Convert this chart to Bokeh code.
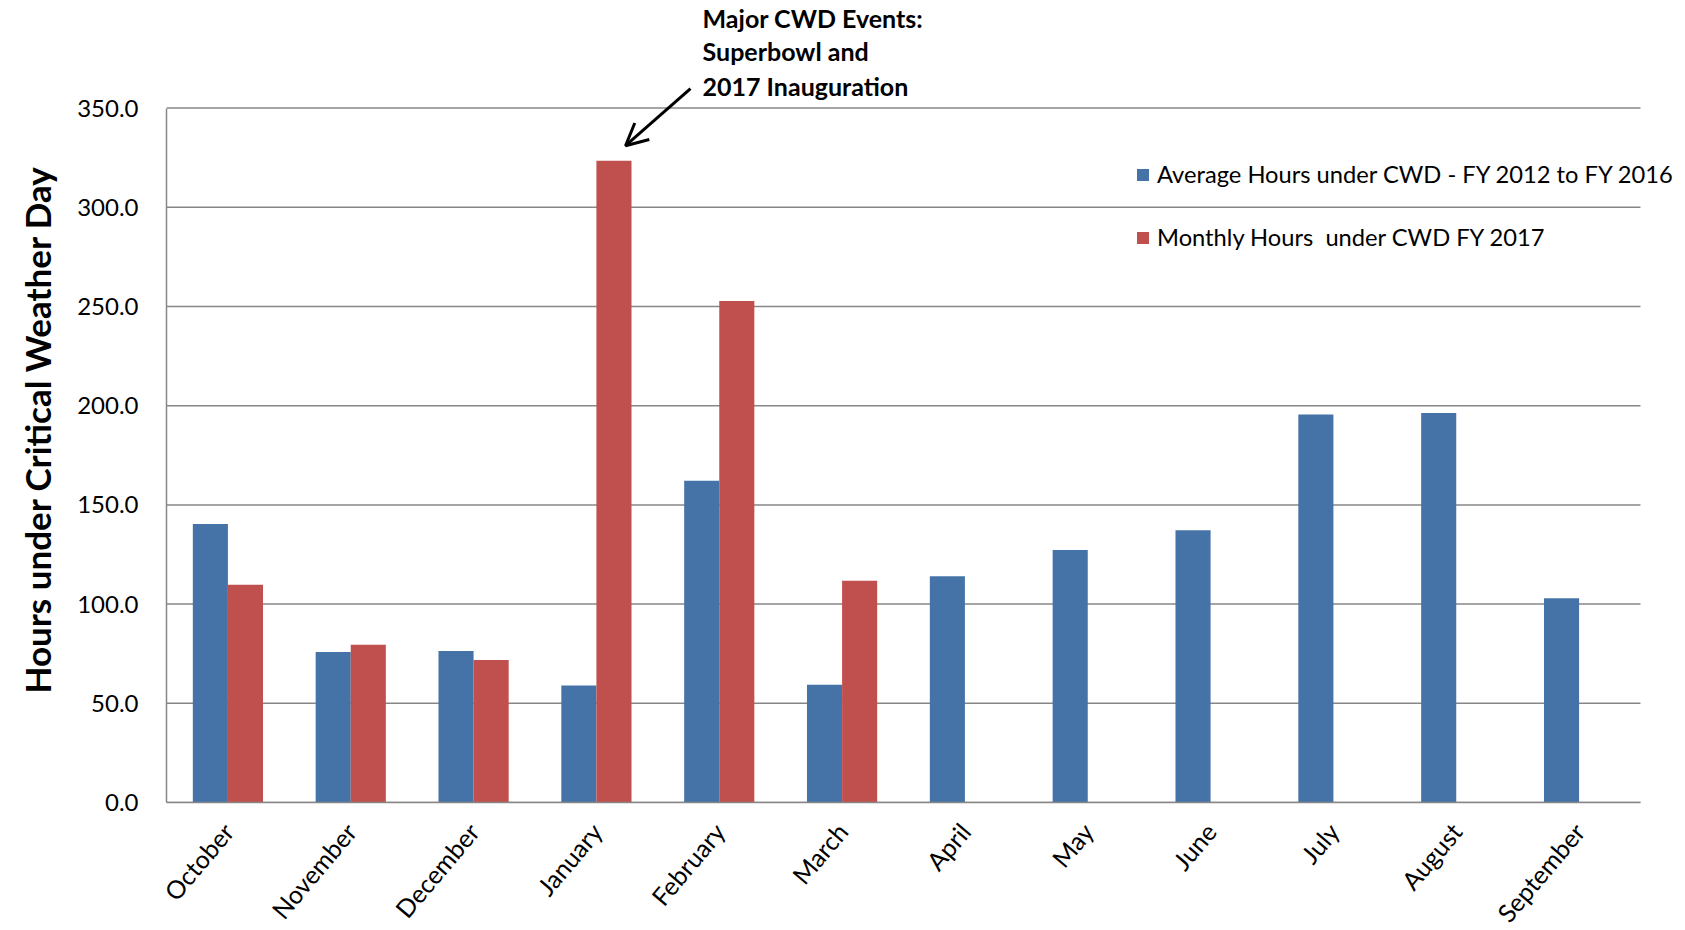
import math
from bokeh.plotting import figure
from bokeh.models import (ColumnDataSource, Range1d, Legend, LegendItem, Title,
                          Arrow, OpenHead, FixedTicker, PrintfTickFormatter)
from bokeh.core.properties import value
from bokeh.embed import file_html
from bokeh.resources import INLINE

NAN = float("nan")

months = ["October", "November", "December", "January", "February", "March",
          "April", "May", "June", "July", "August", "September"]
avg_hours = [140.4, 75.8, 76.4, 59.0, 162.2, 59.3, 114.0, 127.3, 137.2, 195.5, 196.3, 102.9]
fy2017_hours = [109.8, 79.5, 71.8, 323.4, 252.8, 111.8, NAN, NAN, NAN, NAN, NAN, NAN]
y_ticks = [0, 50, 100, 150, 200, 250, 300, 350]
series_names = ["Average Hours under CWD - FY 2012 to FY 2016",
                "Monthly Hours  under CWD FY 2017"]
annotation_lines = ["Major CWD Events:", "Superbowl and", "2017 Inauguration"]
y_title = "Hours under Critical Weather Day"

FONT = "Lato"
BLUE = "#4673A7"
RED = "#C0504D"
GRID = "#878787"

n = len(months)
bw = 0.2857
centers = [i + 0.5 for i in range(n)]
src = ColumnDataSource(dict(
    month=months, center=centers,
    x_avg=[c - bw / 2 for c in centers], x_fy=[c + bw / 2 for c in centers],
    avg=avg_hours, fy17=fy2017_hours))

FRAME_W_CAT = 1474.0      # pixel width that the 12 months occupy
FRAME_W = 1685 - 166      # frame runs to the canvas edge so the legend is not clipped
p = figure(x_range=Range1d(0, n * FRAME_W / FRAME_W_CAT),
           y_range=Range1d(0, 404.2),
           frame_width=FRAME_W, frame_height=802,
           min_border_left=166, min_border_right=0, min_border_top=0, min_border_bottom=126,
           output_backend="svg", toolbar_location=None)
p.outline_line_color = None
p.background_fill_color = "white"
p.xgrid.grid_line_color = None
p.ygrid.grid_line_color = None

# horizontal gridlines, limited to the 12 months
p.segment(x0=[0] * len(y_ticks), x1=[n] * len(y_ticks), y0=y_ticks, y1=y_ticks,
          line_color=GRID, line_width=1.5)

r1 = p.vbar(x="x_avg", top="avg", width=bw, source=src, fill_color=BLUE, line_color=None)
r2 = p.vbar(x="x_fy", top="fy17", width=bw, source=src, fill_color=RED, line_color=None)

# y axis
p.yaxis.ticker = FixedTicker(ticks=y_ticks)
p.yaxis.formatter = PrintfTickFormatter(format="%.1f")
p.yaxis.bounds = (0, 350)
p.yaxis.axis_line_color = GRID
p.yaxis.axis_line_width = 1.5
p.yaxis.major_tick_line_color = None
p.yaxis.minor_tick_line_color = None
p.yaxis.major_label_standoff = 22
p.yaxis.major_label_text_font = FONT
p.yaxis.major_label_text_font_size = "24px"
p.yaxis.major_label_text_color = "black"

p.add_layout(Title(text=y_title, align="left", offset=109, vertical_align="top",
                   text_font=FONT, text_font_style="bold", text_font_size="35px",
                   text_color="black", standoff=30), "left")

# x axis
p.xaxis.ticker = FixedTicker(ticks=centers)
p.xaxis.major_label_overrides = {c: m for c, m in zip(centers, months)}
p.xaxis.bounds = (0, n)
p.xaxis.axis_line_color = GRID
p.xaxis.axis_line_width = 1.5
p.xaxis.major_tick_line_color = None
p.xaxis.minor_tick_line_color = None
p.xaxis.major_label_orientation = 0.87
p.xaxis.major_label_standoff = 18
p.xaxis.major_label_text_font = FONT
p.xaxis.major_label_text_font_size = "25px"
p.xaxis.major_label_text_color = "black"

legend = Legend(items=[LegendItem(label=series_names[0], renderers=[r1]),
                       LegendItem(label=series_names[1], renderers=[r2])],
                location=(969, 550), padding=0, margin=0,
                background_fill_alpha=0, border_line_alpha=0,
                glyph_width=15, glyph_height=15, label_standoff=7,
                label_height=30, spacing=33,
                label_text_font=FONT, label_text_font_size="23.7px", label_text_color="black")
p.add_layout(legend)

# annotation
ann = ColumnDataSource(dict(x=[4.364] * 3, y=[395.6, 378.5, 361.3], text=annotation_lines))
p.text(x="x", y="y", text="text", source=ann, text_font=value(FONT), text_font_style="bold",
       text_font_size="25px", text_baseline="middle", text_align="left", text_color="black")
p.add_layout(Arrow(end=OpenHead(size=22, line_width=3, line_color="black"),
                   x_start=4.266, y_start=359.8, x_end=3.737, y_end=331.0,
                   line_width=3, line_color="black"))

open("out.html", "w").write(file_html(p, INLINE))
